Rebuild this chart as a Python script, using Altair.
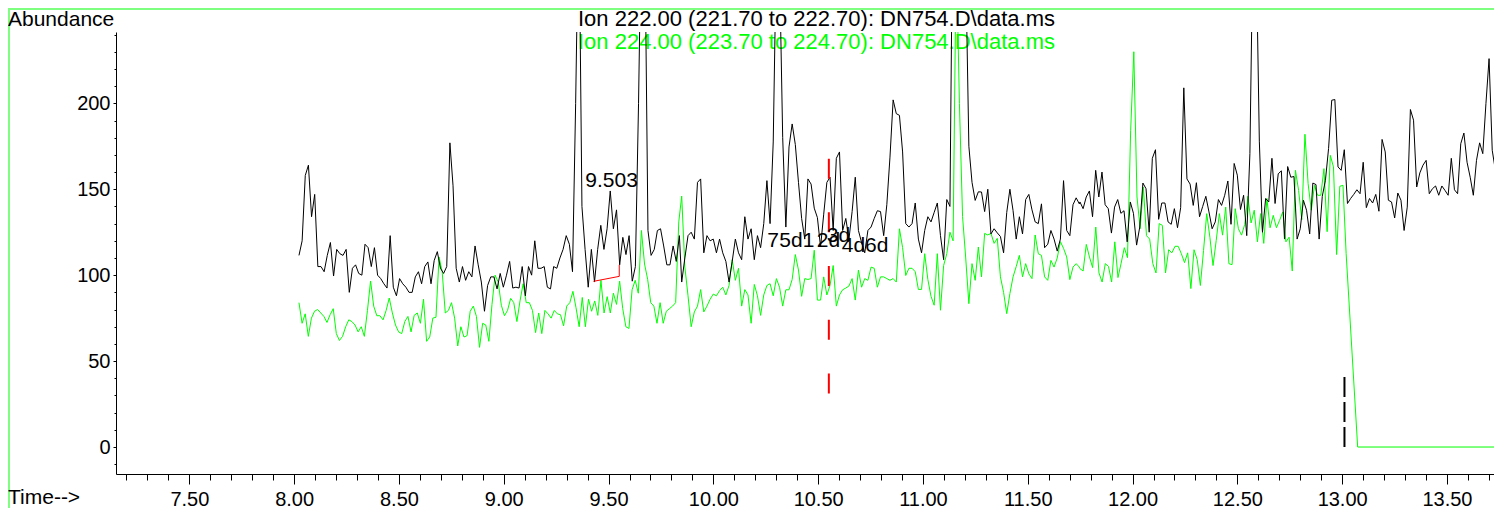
import altair as alt
import numpy as np
import pandas as pd

# ---------------- data ----------------
# Ion 222 (black) abundance, three consecutive runs of scans
black_a = [111.5, 120, 158, 164, 134, 147, 105, 105, 102, 111.5,
           119, 99.5, 115, 112.5, 111.5, 115, 90, 104, 106, 101,
           100, 118, 116, 105, 116, 100, 98, 95, 92.5, 123,
           93, 88, 98, 95, 93, 90, 90, 99, 102, 95,
           105, 107.7, 95, 108.5, 113.7, 104, 101, 105, 177, 152,
           104, 96, 105, 97, 102, 99, 117, 106, 96, 79,
           94, 99, 99, 92, 101, 93, 100, 108, 92.5, 93,
           92.5, 105, 88, 105, 100, 120, 104, 104, 105, 93,
           92, 105, 104, 110, 115, 123, 118, 102, 200, 320,
           140, 115, 93, 115, 96, 115, 129, 115, 127, 149,
           127, 138, 106, 122, 112, 123, 96.5, 105, 200, 320,
           300, 126, 111.5, 115, 126, 127, 117, 106, 106, 117,
           108, 123]
black_b = [96, 110, 123, 125, 121, 154, 156, 113, 123, 120,
           121, 113, 121, 113, 108, 96, 108, 121, 113, 109,
           134, 121, 127, 109, 123, 116, 130, 155, 130, 177.5,
           290, 280, 180, 128, 174.6, 188, 176, 154, 133, 121,
           156, 153, 139, 133.5, 116.4, 135.5, 154, 157, 126, 168,
           171.7, 126, 133, 121, 137, 157, 126, 119, 113, 126,
           128, 133, 137.5, 137, 123, 141, 168.7, 202, 194, 193,
           171.7, 130, 128, 130, 142, 121, 113, 126, 134, 131,
           136.5, 142, 123, 109, 144, 140, 340, 380, 360, 330,
           280, 175, 154, 143.5, 148.5, 148.4, 137, 150, 124, 127,
           124.6, 122.5, 113, 136.5, 150, 137.6, 121, 134, 124, 144,
           147, 138, 131, 130, 141.5, 116, 118, 126, 121, 114,
           121, 155, 126, 123, 141, 145, 141.5]
black_c = [142.6, 138.7, 145.5, 149, 134, 161, 145.5, 160, 141, 138.7,
           124.5, 139.6, 144, 136, 137.5, 119.4, 142.6, 136, 117.5, 128,
           153.6, 150.3, 125, 168, 173, 132.5, 142, 142, 131, 129.6,
           138.7, 127.6, 139.3, 209, 156, 153, 140.6, 153.8, 134, 140,
           145.9, 136.8, 127, 131, 144, 140.6, 146.5, 154.8, 129.6, 165,
           158.2, 138.2, 146.5, 123, 170.7, 300, 290, 178, 125, 144.6,
           142.6, 168, 141.7, 159, 160.7, 121, 163.2, 157, 157.4, 121,
           127, 143.6, 137.8, 124, 153.6, 152.7, 121, 145.9, 155.2, 173.7,
           201.8, 202.2, 163, 161, 173, 141.7, 144.6, 147, 149.7, 147.4,
           165.7, 139.3, 144.6, 142, 147, 137.2, 179, 171.7, 143.6, 142.6,
           133.3, 147.8, 143.6, 126, 139.6, 196.4, 190.2, 151.3, 159.5, 164,
           166.8, 147.4, 150.3, 151.9, 146.5, 151.9, 149.3, 146.5, 168, 149.7,
           147.4, 176.5, 182.7, 165.7, 157, 146.5, 166.8, 177, 170.7, 199.8,
           226, 172.7, 161, 160, 163]
black_spans = [(8.023, 9.838), (9.849, 11.746), (11.749, 13.761)]

# Ion 224 (green) abundance
green_a = [84, 72, 77.5, 64.4, 75, 79, 80, 78, 76, 72.5,
           77, 80.5, 66, 62, 64.4, 70, 74, 73, 71, 67,
           70, 64.4, 79.5, 96.6, 82, 76.4, 76.4, 74, 79.5, 86.7,
           78, 71, 67, 66, 73, 76, 67, 76.6, 78, 72,
           86, 61.5, 64, 75, 75.5, 110.6, 102, 78, 79.5, 84,
           75, 58.8, 70, 64, 64.8, 79, 82, 76, 58, 72,
           71, 61.5, 83, 100, 96, 82.5, 76.4, 79.5, 86.5, 84,
           73, 85, 95, 84, 84, 79.5, 66.6, 78, 66, 79.5,
           77.5, 75, 79.5, 77.5, 77, 70.5, 82, 84, 90.6, 81,
           70, 87, 70, 86, 79, 85, 76.6, 97, 78, 87.5,
           78, 89.5, 83, 96.5, 80.5, 70, 69, 91.5, 97, 89.5,
           126, 106.5, 97.6, 84, 82, 72, 84, 72, 79, 80.5,
           82, 84, 131]
green_b = [146, 104.7, 88, 70, 78.6, 82, 91.6, 78.6, 82, 86,
           89, 88, 91, 93, 88.5, 94, 109, 97, 104, 82,
           91.6, 88.5, 72, 94.6, 88, 76.6, 88.5, 94, 95, 88,
           98, 93, 82, 91.5, 91.5, 97.5, 112, 103, 87.7, 98,
           97.5, 98, 114.5, 85.5, 85.5, 99, 88.5, 94, 105.6, 82,
           88.5, 91.5, 92.5, 93.7, 98, 85.5, 103, 93, 98, 97,
           104.7, 104, 93, 99, 99, 98, 97, 98, 96, 127,
           116, 99.8, 104, 104, 102, 91.7, 91.7, 112.5, 97.5, 87.7,
           82.5, 112.5, 79.6, 105.6, 112.5, 125, 120, 290, 200, 134,
           110, 83.4, 106.7, 97, 116.4, 99, 124.3, 123.4, 124.3, 118.5,
           121.4, 99, 90, 77.6, 89.3, 99, 105, 111.5, 99, 106.7,
           100.8, 98, 123.4, 112.5, 111.5, 99, 97, 108.6, 104.7, 110,
           119.5, 115.6, 110.6, 97.4, 104.7, 106.7, 104.7]
green_c = [103.8, 102.4, 117.9, 110.6, 104.4, 128, 101.3, 96, 106.7, 105.1,
           96, 119.4, 98.6, 107, 116, 110.2, 184, 230, 145.5, 127,
           151.3, 123, 121, 106.7, 101.3, 130, 129, 101.3, 114.8, 113,
           116.8, 116.8, 112.5, 107.3, 113, 92.2, 114.8, 109, 94, 114.4,
           135.8, 122.1, 105.6, 120.2, 135.8, 123.3, 139.6, 106.7, 106.1, 138.7,
           127, 123.3, 129.6, 145.9, 130.4, 137.8, 119.4, 135.8, 118.5, 144.6,
           127.6, 134.8, 127.6, 131.9, 136.8, 119.4, 122.1, 102.4, 161, 149.3,
           132.3, 182, 153.2, 137.8, 152.3, 146.5, 146.5, 162, 125.3, 169.7,
           163, 112, 151.7, 152.3, 112.5]
green_spans = [(8.023, 9.835), (9.849, 11.746), (11.749, 13.019)]
green_tail_t = [13.074, 13.761]
green_tail_v = [0, 0]

# integration baseline of the 9.503 peak (red)
base_t = [9.428, 9.551, 9.551]
base_v = [96.4, 99.3, 106]

# dashed markers
red_mark_t = [10.551]
red_mark_v = [167.8, 31.2]
black_mark_t = [13.011]
black_mark_v = [40.7, 0]

# peak labels
label_text = ["9.503", "7", "5d1", "2d", "3d", "4d6d"]
label_t = [9.5143, 10.2576, 10.3149, 10.4933, 10.5411, 10.6126]
label_v = [151.1, 116.4, 116.4, 116.4, 119.3, 113.5]
label_align = ["center", "left", "left", "left", "left", "left"]

# axis ticks
x_major = [7.5, 8.0, 8.5, 9.0, 9.5, 10.0, 10.5, 11.0, 11.5, 12.0, 12.5, 13.0, 13.5]
x_minor = [round(7.2 + 0.1 * i, 1) for i in range(66)]
y_major = [0, 50, 100, 150, 200]
y_minor = [-10 + 10 * i for i in range(26)]

title_black = "Ion 222.00 (221.70 to 222.70): DN754.D\\data.ms"
title_green = "Ion 224.00 (223.70 to 224.70): DN754.D\\data.ms"

# ---------------- build tables ----------------
def series(chunks, spans):
    ts, vs = [], []
    for vals, (t0, t1) in zip(chunks, spans):
        ts.extend(np.linspace(t0, t1, len(vals)))
        vs.extend(vals)
    return ts, vs

bt, bv = series([black_a, black_b, black_c], black_spans)
gt, gv = series([green_a, green_b, green_c], green_spans)
gt = list(gt) + green_tail_t
gv = list(gv) + green_tail_v

black_df = pd.DataFrame({"t": bt, "v": bv, "i": range(len(bt))})
green_df = pd.DataFrame({"t": gt, "v": gv, "i": range(len(gt))})
base_df = pd.DataFrame({"t": base_t, "v": base_v, "i": range(len(base_t))})
red_df = pd.DataFrame({"t": red_mark_t, "v": [red_mark_v[0]], "v2": [red_mark_v[1]]})
blk_df = pd.DataFrame({"t": black_mark_t, "v": [black_mark_v[0]], "v2": [black_mark_v[1]]})
lab_df = pd.DataFrame({"t": label_t, "v": label_v, "txt": label_text, "al": label_align})

FONT = "Liberation Sans"
W, H = 1378, 442
XDOM = [7.15, 7.15 + W / 209.6]
YDOM = [-15.7, 241.5]
xs = alt.Scale(domain=XDOM, nice=False, zero=False)
ys = alt.Scale(domain=YDOM, nice=False, zero=False)

ax_x_major = alt.Axis(values=x_major, format=".2f", orient="bottom", tickSize=10,
                      labelFontSize=20, labelFont=FONT, labelColor="black",
                      labelPadding=5, labelFlush=False, labelOverlap=False,
                      domainColor="black", tickColor="black", grid=False, title=None)
ax_x_minor = alt.Axis(values=x_minor, orient="bottom", tickSize=6, labels=False,
                      domain=False, tickColor="black", grid=False, title=None)
ax_y_major = alt.Axis(values=y_major, orient="left", tickSize=3, labelFontSize=20,
                      labelFont=FONT, labelColor="black", labelPadding=3,
                      domainColor="black", tickColor="black", grid=False, title=None)
ax_y_minor = alt.Axis(values=y_minor, orient="left", tickSize=2, labels=False,
                      domain=False, tickColor="black", grid=False, title=None)

one = alt.Data(values=[{"a": 1}])

def fixed_text(txt, x, y, size, color="black"):
    return alt.Chart(one).mark_text(text=txt, font=FONT, fontSize=size, color=color,
                                    align="left", baseline="alphabetic").encode(
        x=alt.value(x), y=alt.value(y))

green_line = alt.Chart(green_df).mark_line(color="#00ff00", strokeWidth=1, clip=True).encode(
    x=alt.X("t:Q", scale=xs, axis=ax_x_minor),
    y=alt.Y("v:Q", scale=ys, axis=ax_y_minor),
    order="i:Q")

black_line = alt.Chart(black_df).mark_line(color="black", strokeWidth=1, clip=True).encode(
    x=alt.X("t:Q", scale=xs, axis=ax_x_major),
    y=alt.Y("v:Q", scale=ys, axis=ax_y_major),
    order="i:Q")

base_line = alt.Chart(base_df).mark_line(color="#ff0000", strokeWidth=1).encode(
    x=alt.X("t:Q", scale=xs, axis=None),
    y=alt.Y("v:Q", scale=ys, axis=None),
    order="i:Q")

red_rule = alt.Chart(red_df).mark_rule(color="#ff0000", strokeWidth=2,
                                       strokeDash=[20, 33.7]).encode(
    x=alt.X("t:Q", scale=xs, axis=None),
    y=alt.Y("v:Q", scale=ys, axis=None),
    y2="v2:Q")

blk_rule = alt.Chart(blk_df).mark_rule(color="black", strokeWidth=2,
                                       strokeDash=[20, 5]).encode(
    x=alt.X("t:Q", scale=xs, axis=None),
    y=alt.Y("v:Q", scale=ys, axis=None),
    y2="v2:Q")

labels_left = alt.Chart(lab_df).transform_filter("datum.al == 'left'").mark_text(
    font=FONT, fontSize=21, color="black", align="left", baseline="alphabetic").encode(
    x=alt.X("t:Q", scale=xs, axis=None),
    y=alt.Y("v:Q", scale=ys, axis=None),
    text="txt:N")
labels_center = alt.Chart(lab_df).transform_filter("datum.al == 'center'").mark_text(
    font=FONT, fontSize=21, color="black", align="center", baseline="alphabetic").encode(
    x=alt.X("t:Q", scale=xs, axis=None),
    y=alt.Y("v:Q", scale=ys, axis=None),
    text="txt:N")

border = alt.Chart(one).mark_rect(filled=False, stroke="#7fff7f", strokeWidth=2).encode(
    x=alt.value(-107), x2=alt.value(1420), y=alt.value(-23), y2=alt.value(520))

t1 = fixed_text(title_black, 462, -6, 22)
t2 = fixed_text(title_green, 462, 17, 22, color="#00ff00")
t_ab = fixed_text("Abundance", -108, -6, 21)
t_time = fixed_text("Time-->", -108, 472, 21)

chart = alt.layer(
    border, t1, t2, t_ab, t_time,
    green_line, black_line, base_line, red_rule, blk_rule,
    labels_left, labels_center
).resolve_axis(x="independent", y="independent").properties(
    width=W, height=H,
    padding={"left": 108, "top": 24, "right": 0, "bottom": 34},
    autosize=alt.AutoSizeParams(type="none"),
    background="white"
).configure_view(stroke=None)

chart.save("out.html", embed_options={"renderer": "svg", "actions": False})
